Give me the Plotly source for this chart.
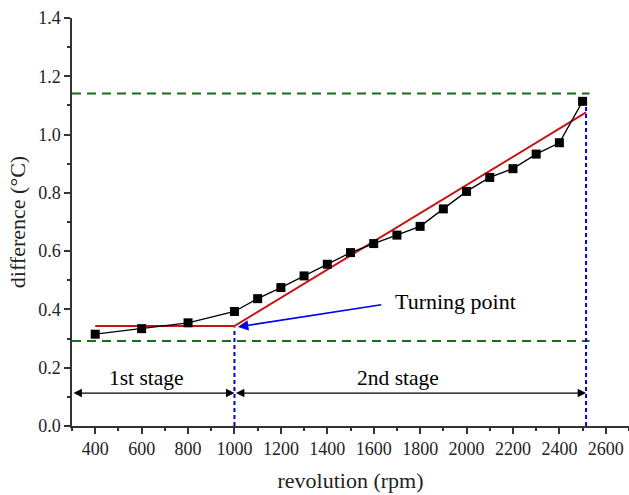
import plotly.graph_objects as go

# ---- data ----
rpm = [400, 600, 800, 1000, 1100, 1200, 1300, 1400, 1500, 1600, 1700, 1800,
       1900, 2000, 2100, 2200, 2300, 2400, 2500]
diff = [0.315, 0.334, 0.354, 0.393, 0.437, 0.475, 0.515, 0.555, 0.595, 0.626,
        0.655, 0.685, 0.745, 0.805, 0.853, 0.883, 0.933, 0.972, 1.114]

fit_x = [400, 1000, 2515]
fit_y = [0.343, 0.343, 1.076]

upper_level = [1.141]
lower_level = [0.292]
green_x = [300, 2530]

turn_x = [1000]
turn_top = [0.338]
end_x = [2515]
end_top = [1.118]

stage_y = [0.113]
stage_bounds = [300, 1000, 2515]
stage_labels = ["1st stage", "2nd stage"]
stage_label_x = [621, 1705]
stage_label_y = [0.165]

turn_label = "Turning point"
turn_arrow_tail = [1639, 0.417]
turn_arrow_head = [1015, 0.34]
turn_text_pos = [1953, 0.426]

x_ticks = list(range(400, 2601, 200))
y_ticks = [0.0, 0.2, 0.4, 0.6, 0.8, 1.0, 1.2, 1.4]

FONT = "Liberation Serif, Times New Roman, serif"

fig = go.Figure()

# green dashed reference lines
for lv in upper_level + lower_level:
    fig.add_trace(go.Scatter(x=green_x, y=[lv, lv], mode="lines",
                             line=dict(color="#1d6b1d", width=2, dash="9px,6px"),
                             hoverinfo="skip", showlegend=False))

# blue dotted verticals
fig.add_trace(go.Scatter(x=[turn_x[0], turn_x[0]], y=[0, turn_top[0]], mode="lines",
                         line=dict(color="#0000ee", width=2, dash="4px,3px"),
                         showlegend=False))
fig.add_trace(go.Scatter(x=[end_x[0], end_x[0]], y=[0, end_top[0]], mode="lines",
                         line=dict(color="#0000ee", width=2, dash="4px,3px"),
                         showlegend=False))

# red fit
fig.add_trace(go.Scatter(x=fit_x, y=fit_y, mode="lines",
                         line=dict(color="#cc1111", width=2), showlegend=False))

# data
fig.add_trace(go.Scatter(x=rpm, y=diff, mode="lines+markers",
                         line=dict(color="black", width=1.3),
                         marker=dict(symbol="square", size=9, color="black"),
                         showlegend=False))

annotations = []
# stage double arrows
for i in range(2):
    annotations.append(dict(x=stage_bounds[i + 1], y=stage_y[0], ax=stage_bounds[i], ay=stage_y[0],
                            xref="x", yref="y", axref="x", ayref="y", text="",
                            showarrow=True, arrowhead=2, startarrowhead=2, arrowside="end+start",
                            arrowsize=1.4, startarrowsize=1.4, arrowwidth=1.2, arrowcolor="black"))
    annotations.append(dict(x=stage_label_x[i], y=stage_label_y[0], xref="x", yref="y",
                            text=stage_labels[i], showarrow=False,
                            font=dict(family=FONT, size=21.5, color="black")))

# turning point arrow
annotations.append(dict(x=turn_arrow_head[0], y=turn_arrow_head[1],
                        ax=turn_arrow_tail[0], ay=turn_arrow_tail[1],
                        xref="x", yref="y", axref="x", ayref="y", text="",
                        showarrow=True, arrowhead=2, arrowsize=1.3, arrowwidth=1.6,
                        arrowcolor="#0000ee"))
annotations.append(dict(x=turn_text_pos[0], y=turn_text_pos[1], xref="x", yref="y",
                        text=turn_label, showarrow=False,
                        font=dict(family=FONT, size=22, color="black")))

axis_common = dict(showline=True, linecolor="#333333", linewidth=1.5, ticks="outside",
                   ticklen=6, tickwidth=1.5, tickcolor="#333333", showgrid=False,
                   zeroline=False, mirror=False,
                   tickfont=dict(family=FONT, size=18, color="#222222"))

fig.update_layout(
    width=629, height=495,
    margin=dict(l=72, r=0, t=18, b=69),
    plot_bgcolor="white", paper_bgcolor="white",
    annotations=annotations,
    xaxis=dict(range=[300, 2700], tickvals=x_ticks,
               minor=dict(dtick=100, tick0=300, ticks="outside", ticklen=3, tickcolor="#333333"),
               title=dict(text="revolution (rpm)", font=dict(family=FONT, size=22, color="#222222"),
                          standoff=14),
               **axis_common),
    yaxis=dict(range=[0, 1.4], tickvals=y_ticks, tickformat=".1f",
               minor=dict(dtick=0.1, tick0=0, ticks="outside", ticklen=3, tickcolor="#333333"),
               title=dict(text="difference (°C)", font=dict(family=FONT, size=22, color="#222222"),
                          standoff=6),
               **axis_common),
)

fig.write_html("out.html")
